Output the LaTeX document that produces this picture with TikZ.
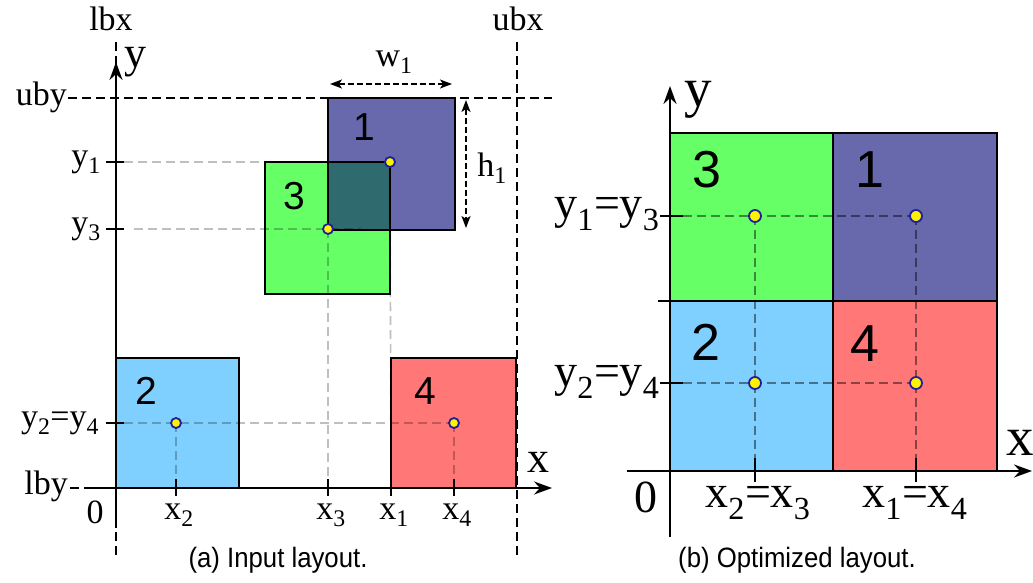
\documentclass[tikz,border=0pt]{standalone}
\usepackage{fontspec}
\setmainfont{Liberation Serif}
\newfontfamily\numfam{Liberation Sans}
\newfontfamily\capfam[FakeStretch=0.92]{Liberation Sans}
\usetikzlibrary{arrows.meta, positioning}
\definecolor{blkone}{RGB}{104,104,172}
\definecolor{blkthree}{RGB}{102,255,102}
\definecolor{blktwo}{RGB}{127,207,255}
\definecolor{blkfour}{RGB}{255,119,119}
\definecolor{overlap}{RGB}{47,107,110}
\definecolor{dotblue}{RGB}{30,30,160}
\newcommand\fsz[1]{\fontsize{#1}{#1}\selectfont}

\begin{document}
\begin{tikzpicture}[x=1pt, y=-1pt,
  box/.style={draw=black, line width=1.8pt},
  axis/.style={line width=2.4pt, -{Stealth[length=18pt, width=13pt, inset=6pt]}},
  bound/.style={line width=1.4pt, dash pattern=on 9pt off 5pt},
  guide/.style={black, opacity=0.25, line width=1.6pt, dash pattern=on 9pt off 5pt},
  tickmark/.style={line width=1.8pt},
  dim/.style={line width=1.4pt, dash pattern=on 6pt off 3pt, {Stealth[length=12pt, width=9pt, inset=3pt]}-{Stealth[length=12pt, width=9pt, inset=3pt]}},
  dot/.style={circle, fill=yellow, draw=dotblue, line width=1.8pt, inner sep=0pt, minimum size=10pt},
  lab/.style={inner sep=0pt, font=\fsz{34}},
  labR/.style={inner sep=0pt, font=\fsz{46}},
  axlab/.style={inner sep=0pt, font=\fsz{44}},
  axlabR/.style={inner sep=0pt, font=\fsz{55}},
  num/.style={inner sep=0pt, font=\numfam\fsz{39}},
  numR/.style={inner sep=0pt, font=\numfam\fsz{52}},
  capt/.style={inner sep=0pt, font=\capfam\fsz{28}}]
\useasboundingbox (0,0) rectangle (1033,583);

% ---- (a) input layout ----
% bounds
\draw[bound] (116,42) -- (116,555);
\draw[bound] (517,42) -- (517,555);
\draw[bound] (68,98) -- (552,98);
\draw[bound] (70,488) -- (116,488);
\node[lab] (lbx) at (111,19) {lbx};
\node[lab] (ubx) at (518,19) {ubx};
\node[lab, anchor=east] (uby) at (67,97) {uby};
\node[lab, anchor=east] (lby) at (68,486) {lby};
% blocks
\fill[blkone] (328,98) rectangle (455,230);
\fill[blkthree] (265,162) rectangle (390,294);
\fill[overlap] (328,162) rectangle (390,230);
\draw[box] (328,98) rectangle (455,230);
\draw[box] (265,162) rectangle (390,294);
\draw[box, fill=blktwo] (116,358) rectangle (239,488);
\draw[box, fill=blkfour] (391,358) rectangle (516,488);
\node[num] (n1) at (364,127) {1};
\node[num] (n3) at (294,196) {3};
\node[num] (n2) at (146,391) {2};
\node[num] (n4) at (425,391) {4};
% block centres and their guides
\coordinate (p1) at (390,162);
\coordinate (p3) at (328,229);
\coordinate (p2) at (176,423);
\coordinate (p4) at (454,423);
\coordinate (ty1) at (124,162);
\coordinate (ty3) at (134,229);
\coordinate (ty2) at (124,423);
\draw[guide] (ty1) -- (p1);
\draw[guide] (ty3) -- (361,229);
\draw[guide] (ty2) -- (p4);
\draw[guide] (p2) -- (176,488);
\draw[guide] (p3) -- (328,488);
\draw[guide] (p1) -- (391,488);
\draw[guide] (p4) -- (454,488);
% axes
\draw[axis] (116,528) -- (116,62);
\draw[axis] (84,488) -- (552,488);
\node[axlab] (ya) at (135,62) {y};
\node[axlab] (xa) at (538,462) {x};
\foreach \yy in {162,229,423} \draw[tickmark] (106,\yy) -- (124,\yy);
\foreach \xx in {176,328,391,454} \draw[tickmark] (\xx,479) -- (\xx,496);
\node[lab] (y1a) at (86,162) {y\textsubscript{1}};
\node[lab] (y3a) at (86,229) {y\textsubscript{3}};
\node[lab] (y24a) at (60,423) {y\textsubscript{2}=y\textsubscript{4}};
\node[lab] (o1) at (95,512) {0};
\node[lab] (x2a) at (179,515) {x\textsubscript{2}};
\node[lab] (x3a) at (331,515) {x\textsubscript{3}};
\node[lab] (x1a) at (394,515) {x\textsubscript{1}};
\node[lab] (x4a) at (457,515) {x\textsubscript{4}};
\foreach \pp/\nm in {p1/d1, p3/d3, p2/d2, p4/d4} \node[dot] (\nm) at (\pp) {};
% size of block 1
\coordinate (wl) at (330,84);
\coordinate (wr) at (452,84);
\coordinate (ht) at (466,100);
\coordinate (hb) at (466,228);
\draw[dim] (wl) -- (wr);
\draw[dim] (ht) -- (hb);
\node[lab] (w1) at (394,62) {w\textsubscript{1}};
\node[lab] (h1) at (492,168) {h\textsubscript{1}};
\node[capt] (capa) at (278,560) {(a) Input layout.};

% ---- (b) optimized layout ----
\draw[box, fill=blkthree] (670,133) rectangle (833,301);
\draw[box, fill=blkone] (833,133) rectangle (997,301);
\draw[box, fill=blktwo] (670,301) rectangle (833,471);
\draw[box, fill=blkfour] (833,301) rectangle (997,471);
\node[numR] (m3) at (707,170) {3};
\node[numR] (m1) at (870,170) {1};
\node[numR] (m2) at (706,342) {2};
\node[numR] (m4) at (865,344) {4};
\coordinate (q3) at (755,216);
\coordinate (q1) at (916,216);
\coordinate (q2) at (755,383);
\coordinate (q4) at (916,383);
\coordinate (sy13) at (683,216);
\coordinate (sy24) at (683,383);
\coordinate (sx23) at (755,458);
\coordinate (sx14) at (916,458);
\begin{scope}[guide/.append style={opacity=0.45}]
\draw[guide] (sy13) -- (q1);
\draw[guide] (sy24) -- (q4);
\draw[guide] (q3) -- (sx23);
\draw[guide] (q1) -- (sx14);
\end{scope}
\draw[axis] (670,537) -- (670,86);
\draw[axis] (627,471) -- (1032,471);
\node[axlabR] (yb) at (698,100) {y};
\node[axlabR] (xb) at (1020,443) {x};
\draw[tickmark] (658,301) -- (670,301);
\draw[tickmark] (660,216) -- (683,216);
\draw[tickmark] (660,383) -- (683,383);
\draw[tickmark] (755,458) -- (755,482);
\draw[tickmark] (916,458) -- (916,482);
\foreach \pp/\nm in {q3/e3, q1/e1, q2/e2, q4/e4} \node[dot, minimum size=12pt] (\nm) at (\pp) {};
\node[labR] (y13b) at (607,214) {y\textsubscript{1}=y\textsubscript{3}};
\node[labR] (y24b) at (607,382) {y\textsubscript{2}=y\textsubscript{4}};
\node[labR] (o2) at (646,497) {0};
\node[labR] (x23b) at (758,503) {x\textsubscript{2}=x\textsubscript{3}};
\node[labR] (x14b) at (915,503) {x\textsubscript{1}=x\textsubscript{4}};
\node[capt] (capb) at (797,560) {(b) Optimized layout.};
\end{tikzpicture}
\end{document}
